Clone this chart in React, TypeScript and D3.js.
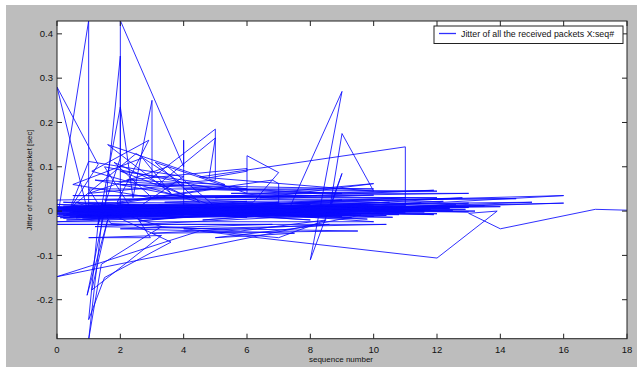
import React from "react";
import * as d3 from "d3";

// Sequence-number ticks and jitter ticks
const xTickValues = [0, 2, 4, 6, 8, 10, 12, 14, 16, 18];
const yTickValues = [-0.2, -0.1, 0, 0.1, 0.2, 0.3, 0.4];
const yTickLabels = ["-0.2", "-0.1", "0", "0.1", "0.2", "0.3", "0.4"];

const legendLabel = "Jitter of all the received packets X:seq#";
const xAxisTitle = "sequence number";
const yAxisTitle = "Jitter of received packet [sec]";

// [sequence number, jitter (sec)], in drawing order
const spikeRunA: [number, number][] = [
  [0.05, 0.0], [1, 0.43], [1, -0.01], [0, 0.28], [1.3, 0.105], [0.4, 0.004],
  [1, 0.112], [3, 0.089], [4, 0.078], [2.6, 0.01], [2, 0.0], [2, 0.43],
  [4, 0.1], [4, 0.16], [4, -0.01], [0.6, 0.02], [1.5, -0.005], [2, 0.35],
  [2, 0.12], [1.3, -0.03], [2, 0.235], [2.4, 0.03], [3, 0.25], [3, 0.075],
  [5, 0.185], [5, 0.07], [3.2, 0.06], [5, 0.165], [4.8, 0.075], [6, 0.09],
  [6, 0.125], [7, 0.087], [6.2, 0.02],
];

const bandRunOne: [number, number][] = [
  [0, 0.003], [7.5, -0.008], [0.5, 0.012], [9, 0.004], [1, -0.012], [8, 0.015],
  [0, -0.006], [10, 0.002], [2, 0.008], [6, -0.014], [0, 0.01], [9.5, -0.005],
  [1.5, 0.002], [11, 0.012], [0.2, -0.01], [8.5, 0.006], [3, -0.018], [10, 0.014],
  [0, -0.002], [12, 0.01], [2.5, -0.008], [7, 0.02], [0.3, 0.006], [9, -0.012],
  [4, 0.01], [13, 0.008], [0, -0.012], [6.5, 0.004], [1, 0.018], [11, -0.004],
  [0.5, -0.004], [10.5, 0.02], [3.5, 0.0], [8, -0.02], [0, 0.015], [12.5, 0.002],
  [2, -0.004], [9, 0.025], [0.1, -0.015], [7, 0.0], [5, 0.012], [13, -0.002],
  [0.6, 0.004], [10, -0.012], [1.8, 0.012], [8.8, -0.002], [0, -0.024], [10, -0.024],
  [4.5, 0.004], [11.5, 0.018],
];

const fanRun: [number, number][] = [
  [1.45, 0.0], [1, -0.29], [1.4, -0.12], [3.3, -0.035], [1.35, 0.01], [1, -0.245],
  [1.5, -0.15], [3.6, -0.07], [1.5, 0.0], [0.95, -0.19], [1.6, -0.02], [1.1, -0.178],
  [3.3, -0.055], [1, -0.06], [2.95, -0.06], [2.4, 0.0],
];

const midRun: [number, number][] = [
  [1.5, 0.1], [5, 0.05], [0.3, 0.0], [2.5, 0.13], [4, 0.06], [1, 0.04],
  [3.5, 0.1], [5, 0.01], [2, 0.09], [6, 0.05], [1.2, 0.07], [4.2, 0.03],
  [1.8, 0.11], [3, 0.03], [0.5, 0.06], [2.7, 0.12], [3.6, 0.04], [1.6, 0.15],
  [5.3, 0.06], [2.2, 0.07], [6, 0.096], [6, 0.04], [3.1, 0.11], [4.5, 0.02],
  [1.1, 0.09], [2.9, 0.16], [1.9, 0.02], [6.8, 0.07], [7, 0.062], [7, 0.0],
];

const bandRunTwo: [number, number][] = [
  [0.8, -0.018], [9.2, 0.01], [2.2, 0.0], [14, 0.01], [0.4, 0.008], [6, 0.022],
  [1.2, -0.006], [10.2, 0.006], [3.2, 0.014], [12, -0.006], [0, 0.0], [7.8, 0.012],
  [2.6, -0.022], [9.6, 0.016], [0.2, 0.02], [8.2, -0.014], [5.5, 0.006], [13.5, 0.012],
  [0.7, -0.008], [11, 0.03], [1.6, 0.006], [10.8, -0.008], [4.2, -0.012], [16, 0.035],
  [3, 0.01], [15, 0.02], [2, -0.012], [16, 0.018], [6, 0.002], [12.8, 0.03],
  [0.9, 0.0], [9.8, -0.018], [1.4, 0.014], [8.4, 0.002], [0, 0.006], [11.8, 0.004],
  [3.8, -0.006], [9.4, 0.0], [0.3, -0.02], [7.2, -0.01], [1.9, 0.016], [10.6, 0.01],
  [5, -0.004], [12.2, 0.022], [0.1, 0.008], [8.6, -0.008], [2.8, 0.004], [13, 0.018],
  [4.6, -0.02], [9.9, 0.008],
];

const spikeRunB: [number, number][] = [
  [7.3, 0.0], [9, 0.27], [8, -0.11], [9, 0.085], [8.6, 0.0], [9, 0.175],
  [10, 0.045], [4.5, 0.077], [11, 0.145], [11, 0.0],
];

const bandRunThree: [number, number][] = [
  [1.2, -0.035], [9.5, -0.045], [3, -0.05], [8.6, -0.03], [5, -0.06], [7.5, -0.05],
  [2, -0.04], [6.8, -0.03], [0, -0.03], [10.4, -0.03], [4, -0.04], [7, -0.06],
  [8.5, -0.02], [5.8, -0.045], [1.7, -0.028], [1, 0.05], [10, 0.05], [2, 0.06],
  [9, 0.04], [4, 0.05], [12, 0.045], [5.5, 0.04], [13, 0.04], [3, 0.03],
  [11.9, 0.047], [6.4, 0.03], [10, 0.062], [5, 0.03], [12, 0.03], [0.5, 0.035],
  [8.2, 0.035], [1.5, 0.025], [14.5, 0.028], [3.4, 0.02], [10, 0.036], [0, 0.025],
];

const bandRunFour: [number, number][] = [
  [0, -0.008], [9.7, 0.003], [0.2, 0.004], [10.3, -0.006], [0.6, -0.011], [8.9, 0.009],
  [0.1, 0.001], [11.2, 0.0], [0.9, 0.007], [9.1, -0.009], [0, -0.004], [10.9, 0.005],
  [0.4, -0.013], [8.3, 0.0], [0.7, 0.01], [9.9, -0.002], [0.05, -0.009], [12.4, 0.006],
  [1.3, 0.003], [8.7, -0.011], [0.2, 0.011], [10.1, 0.009], [0.5, 0.0], [9.3, -0.014],
  [1.1, 0.005], [11.6, -0.002], [0, 0.008], [7.9, -0.004], [0.8, -0.002], [10.7, 0.001],
  [0.3, -0.007], [9.8, 0.011], [1.7, -0.009], [12.9, 0.004], [0.1, 0.005], [8.1, 0.007],
  [0.6, -0.015], [11.4, 0.008], [1.4, -0.001], [9.5, 0.006], [0, 0.002], [10.4, -0.01],
  [2.1, 0.005], [13.2, 0.0], [0.4, -0.003], [7.6, 0.008], [1, 0.002], [11.9, -0.008],
  [2.4, 0.009], [9.2, -0.006], [0.2, -0.016], [8.5, -0.004], [0.9, 0.013], [10.6, -0.014],
  [1.6, -0.012], [12.6, 0.014], [0.3, 0.009], [9.6, -0.009],
];

const tailRun: [number, number][] = [
  [0, -0.148], [4.5, -0.045], [12, -0.106], [13.9, 0.0], [13, -0.005],
  [14, -0.04], [17, 0.004], [18, 0.002],
];

const W = 637;
const H = 367;
const plot = { left: 57, right: 627, top: 21, bottom: 338.7 };
const font = "'Liberation Sans', Arial, Helvetica, sans-serif";

export default function App() {
  const x = d3.scaleLinear().domain([0, 18]).range([plot.left, plot.right]);
  const y = d3.scaleLinear().domain([-0.288, 0.429]).range([plot.bottom, plot.top]);

  const points: [number, number][] = [
    ...spikeRunA,
    ...bandRunOne,
    ...fanRun,
    ...midRun,
    ...bandRunTwo,
    ...spikeRunB,
    ...bandRunThree,
    ...bandRunFour,
    ...tailRun,
  ];

  const line = d3
    .line<[number, number]>()
    .x((d) => x(d[0]))
    .y((d) => y(d[1]));

  const tick = 5;
  const pw = plot.right - plot.left;
  const ph = plot.bottom - plot.top;

  return (
    <svg
      width={W}
      height={H}
      style={{ position: "absolute", left: 0, top: 0, display: "block" }}
      fontFamily={font}
    >
      <rect x={0} y={0} width={W} height={H} fill="#ffffff" />
      <rect x={6} y={5} width={W - 6} height={H - 5} fill="#bdbdbd" />
      <rect x={plot.left} y={plot.top} width={pw} height={ph} fill="#ffffff" />

      <defs>
        <clipPath id="plotClip">
          <rect x={plot.left} y={plot.top} width={pw} height={ph} />
        </clipPath>
      </defs>

      <g clipPath="url(#plotClip)">
        <path
          d={line(points) ?? ""}
          fill="none"
          stroke="#0a0aff"
          strokeWidth={0.85}
          strokeLinejoin="miter"
        />
      </g>

      {/* frame */}
      <rect
        x={plot.left}
        y={plot.top}
        width={pw}
        height={ph}
        fill="none"
        stroke="#222"
        strokeWidth={1}
      />

      {/* x ticks */}
      {xTickValues.map((v) => (
        <g key={"x" + v}>
          <line x1={x(v)} x2={x(v)} y1={plot.bottom} y2={plot.bottom - tick} stroke="#222" />
          <line x1={x(v)} x2={x(v)} y1={plot.top} y2={plot.top + tick} stroke="#222" />
          <text x={x(v)} y={352.5} fontSize={9.5} textAnchor="middle" fill="#111">
            {String(v)}
          </text>
        </g>
      ))}

      {/* y ticks */}
      {yTickValues.map((v, i) => (
        <g key={"y" + v}>
          <line x1={plot.left} x2={plot.left + tick} y1={y(v)} y2={y(v)} stroke="#222" />
          <line x1={plot.right} x2={plot.right - tick} y1={y(v)} y2={y(v)} stroke="#222" />
          <text x={53} y={y(v) + 3.3} fontSize={9.5} textAnchor="end" fill="#111">
            {yTickLabels[i]}
          </text>
        </g>
      ))}

      {/* axis titles */}
      <text x={341} y={362} fontSize={8} textAnchor="middle" fill="#111">
        {xAxisTitle}
      </text>
      <text
        x={0}
        y={0}
        fontSize={7.8}
        textAnchor="middle"
        fill="#111"
        transform={`translate(32,180) rotate(-90)`}
      >
        {yAxisTitle}
      </text>

      {/* legend */}
      <rect x={434} y={26} width={189} height={17.5} fill="#ffffff" stroke="#222" strokeWidth={1} />
      <line x1={439} x2={456} y1={33.5} y2={33.5} stroke="#3030ff" strokeWidth={1.3} />
      <text x={461} y={37} fontSize={8.8} fill="#111">
        {legendLabel}
      </text>
    </svg>
  );
}
